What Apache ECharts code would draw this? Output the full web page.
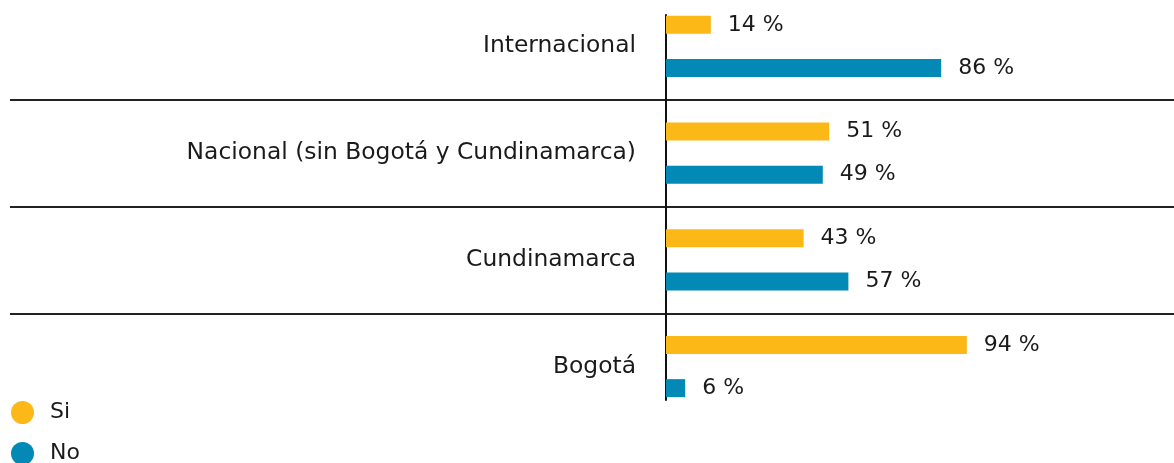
<!DOCTYPE html>
<html>
<head>
<meta charset="utf-8">
<script src="https://cdn.jsdelivr.net/npm/echarts@6/dist/echarts.min.js"></script>
<style>
html,body{margin:0;padding:0;background:#fff;}
#chart{width:1174px;height:463px;}
</style>
</head>
<body>
<div id="chart"></div>
<script>
// bottom-to-top order (category axis starts at the bottom)
const categories = ['Bogotá', 'Cundinamarca', 'Nacional (sin Bogotá y Cundinamarca)', 'Internacional'];
const siValues = [94, 43, 51, 14];
const noValues = [6, 57, 49, 86];
const seriesNames = ['Si', 'No'];

const FONT = '"DejaVu Sans", sans-serif';
const chart = echarts.init(document.getElementById('chart'));
const labelStyle = {
  show: true,
  position: 'right',
  distance: 17,
  formatter: '{c} %',
  fontSize: 22,
  color: '#1a1a1a',
  fontFamily: FONT
};
chart.setOption({
  animation: false,
  grid: [
    { left: 10, right: 0, top: -7, bottom: 43, containLabel: false, outerBoundsMode: 'none' },
    { left: 10, right: 0, top: 15, bottom: 63, containLabel: false, outerBoundsMode: 'none' }
  ],
  legend: {
    data: seriesNames,
    orient: 'vertical',
    left: 11,
    top: 401,
    height: 80,
    padding: 0,
    icon: 'circle',
    itemWidth: 23,
    itemHeight: 23,
    itemGap: 18,
    textStyle: { fontSize: 22, color: '#1a1a1a', fontFamily: FONT, padding: [0, 0, 0, 11] }
  },
  xAxis: [
    { type: 'value', gridIndex: 0, min: -205, max: 158.75, show: false },
    { type: 'value', gridIndex: 1, min: -205, max: 158.75, show: false }
  ],
  yAxis: [
    {
      type: 'category',
      gridIndex: 0,
      data: categories,
      axisLine: { show: false },
      axisTick: { show: false },
      axisLabel: { fontSize: 23.4, color: '#1a1a1a', fontFamily: FONT, margin: -626, padding: [4, 0, 0, 0] },
      splitLine: { show: true, showMinLine: false, showMaxLine: false, lineStyle: { color: '#222', width: 2 } }
    },
    {
      type: 'category',
      gridIndex: 1,
      data: categories,
      axisLine: { show: true, onZero: true, lineStyle: { color: '#111', width: 2 } },
      axisTick: { show: false },
      axisLabel: { show: false },
      splitLine: { show: false }
    }
  ],
  series: [
    { name: seriesNames[0], type: 'bar', xAxisIndex: 0, yAxisIndex: 0, data: siValues, barWidth: 18, barGap: '139%',
      itemStyle: { color: '#FCB816' }, label: labelStyle },
    { name: seriesNames[1], type: 'bar', xAxisIndex: 0, yAxisIndex: 0, data: noValues, barWidth: 18, barGap: '139%',
      itemStyle: { color: '#0389B6' }, label: labelStyle }
  ]
});
</script>
</body>
</html>
